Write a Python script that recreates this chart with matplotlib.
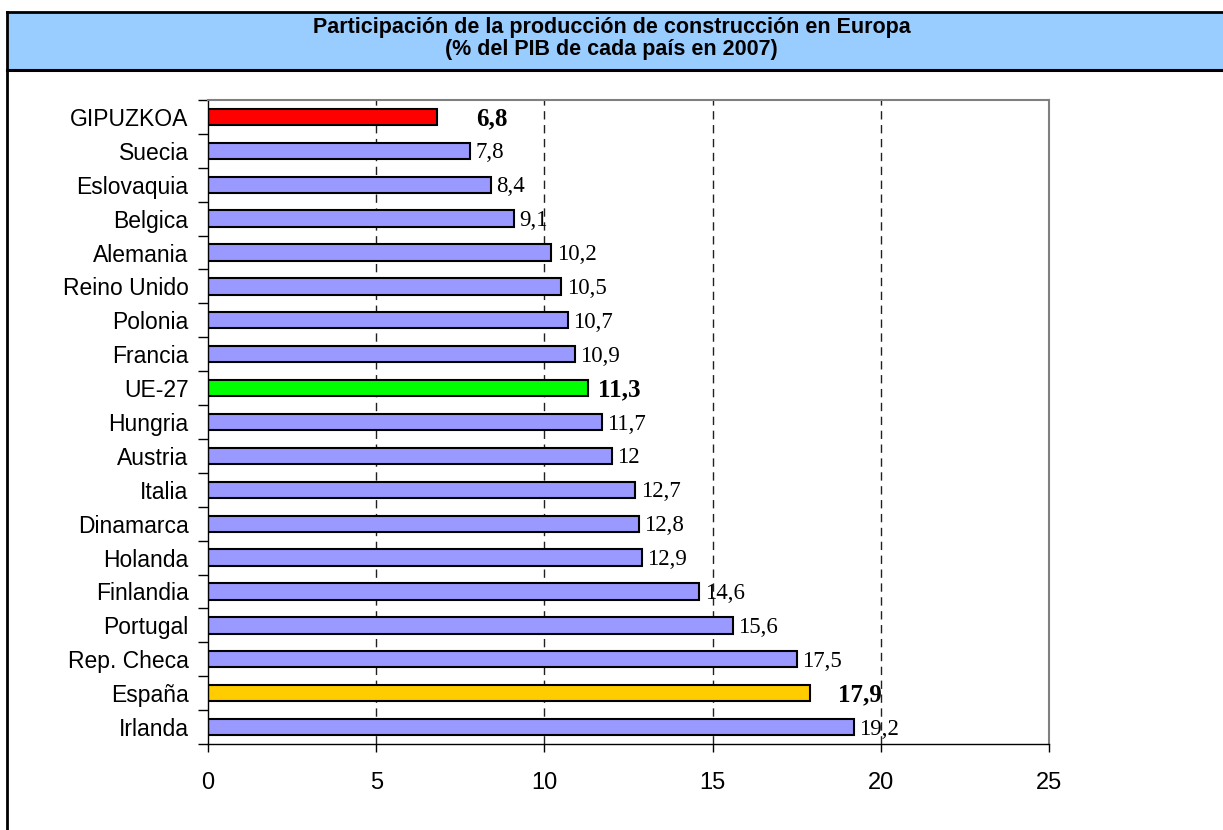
import matplotlib
matplotlib.use("Agg")
import matplotlib.pyplot as plt
import numpy as np
from matplotlib.patches import Rectangle
from matplotlib.lines import Line2D

# ---- data ----
categories = ["GIPUZKOA", "Suecia", "Eslovaquia", "Belgica", "Alemania", "Reino Unido",
              "Polonia", "Francia", "UE-27", "Hungria", "Austria", "Italia", "Dinamarca",
              "Holanda", "Finlandia", "Portugal", "Rep. Checa", "España", "Irlanda"]
values = [6.8, 7.8, 8.4, 9.1, 10.2, 10.5, 10.7, 10.9, 11.3, 11.7, 12, 12.7, 12.8,
          12.9, 14.6, 15.6, 17.5, 17.9, 19.2]
value_labels = ["6,8", "7,8", "8,4", "9,1", "10,2", "10,5", "10,7", "10,9", "11,3",
                "11,7", "12", "12,7", "12,8", "12,9", "14,6", "15,6", "17,5", "17,9", "19,2"]
x_ticks = [0, 5, 10, 15, 20, 25]
title_lines = ["Participación de la producción de construcción en Europa",
               "(% del PIB de cada país en 2007)"]

# ---- styles ----
default_color = "#9999FF"
highlight_colors = {"GIPUZKOA": "#FF0000", "UE-27": "#00FF00", "España": "#FFCC00"}
# extra horizontal offset (points) for the bold highlighted labels
label_offsets = {"GIPUZKOA": 26, "UE-27": 5, "España": 18}

W, H = 1223, 830
fig = plt.figure(figsize=(W / 100, H / 100), dpi=100)
fig.patch.set_facecolor("white")

def fx(px):
    return px / W

def fy(py):
    return 1 - py / H

# title band
fig.patches.append(Rectangle((fx(7), fy(70)), 1 - fx(7), fy(12) - fy(70),
                             transform=fig.transFigure, facecolor="#99CCFF",
                             edgecolor="none", zorder=0))
fig.lines.append(Line2D([fx(7), 1], [fy(12), fy(12)], transform=fig.transFigure,
                        color="black", lw=2))
fig.lines.append(Line2D([fx(7), 1], [fy(70), fy(70)], transform=fig.transFigure,
                        color="black", lw=2.2))
fig.lines.append(Line2D([fx(7), fx(7)], [fy(12), 0], transform=fig.transFigure,
                        color="black", lw=2))
fig.text(0.5, fy(28), title_lines[0], ha="center", va="center", fontsize=15.5,
         fontweight="bold", family="Liberation Sans")
fig.text(0.5, fy(49), title_lines[1], ha="center", va="center", fontsize=15.5,
         fontweight="bold", family="Liberation Sans")

ax = fig.add_axes([fx(208), fy(744), fx(1049) - fx(208), fy(100) - fy(744)])
n = len(categories)
y = np.arange(n)
colors = [highlight_colors.get(c, default_color) for c in categories]

for xv in x_ticks[1:-1]:
    ax.axvline(xv, color="#202020", lw=1, linestyle=(0, (6, 4)), zorder=0.5)

ax.barh(y, values, height=0.48, color=colors, edgecolor="black", linewidth=1.5, zorder=2)

for yi, v, lab, c in zip(y, values, value_labels, categories):
    if c in highlight_colors:
        ax.annotate(lab, (v, yi), xytext=(2 + label_offsets[c], -1.5),
                    textcoords="offset points", ha="left", va="center",
                    fontsize=18, fontweight="bold", family="Liberation Serif")
    else:
        ax.annotate(lab, (v, yi), xytext=(4, -1.5), textcoords="offset points",
                    ha="left", va="center", fontsize=16.5, family="Liberation Serif")

ax.set_xlim(0, 25)
ax.set_ylim(n - 0.5, -0.5)
ax.set_xticks(x_ticks)
ax.set_xticklabels([str(t) for t in x_ticks], fontsize=17, family="Liberation Sans")
ax.set_yticks(y)
ax.set_yticklabels(categories, fontsize=16.5, family="Liberation Sans")
ax.set_yticks(np.arange(n + 1) - 0.5, minor=True)
ax.tick_params(axis="y", which="major", length=0, pad=14)
ax.tick_params(axis="y", which="minor", length=7, width=1, direction="out", color="black")
ax.tick_params(axis="x", which="major", length=6, width=1, direction="out", pad=14)

for s in ["top", "right"]:
    ax.spines[s].set_color("#808080")
    ax.spines[s].set_linewidth(1.5)
for s in ["left", "bottom"]:
    ax.spines[s].set_color("black")
    ax.spines[s].set_linewidth(1)

fig.savefig("out.png", dpi=100)
